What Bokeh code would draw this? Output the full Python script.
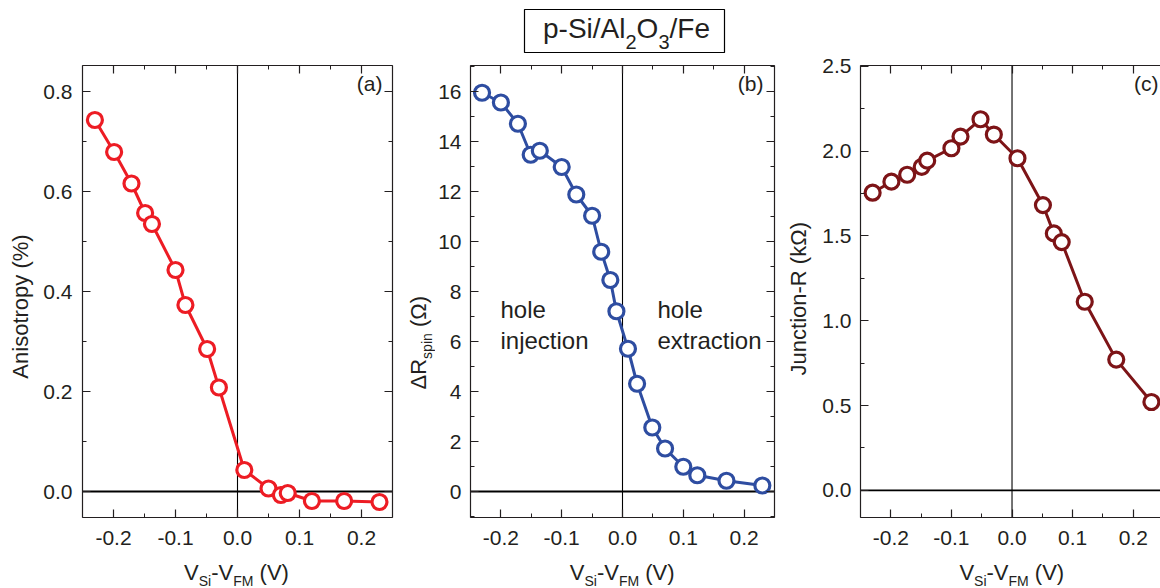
import math
from bokeh.plotting import figure
from bokeh.models import (Label, Span, LinearAxis, SingleIntervalTicker,
                          PrintfTickFormatter, CustomJSTickFormatter, Range1d)
from bokeh.layouts import row, column
from bokeh.embed import file_html
from bokeh.resources import INLINE

FONT = "Liberation Sans"
TXT = "#231f20"
AX = "#231f20"
K = 0.35  # baseline correction (fraction of font size)

# ---------------- data ----------------
v_a = [-0.230, -0.199, -0.171, -0.149, -0.138, -0.100, -0.084, -0.049,
       -0.030, 0.011, 0.050, 0.070, 0.081, 0.120, 0.172, 0.229]
anisotropy = [0.743, 0.679, 0.616, 0.557, 0.535, 0.443, 0.373, 0.285,
              0.208, 0.043, 0.006, -0.007, -0.003, -0.019, -0.019, -0.021]

v_b = [-0.231, -0.200, -0.172, -0.151, -0.136, -0.100, -0.076, -0.050,
       -0.035, -0.020, -0.010, 0.009, 0.024, 0.049, 0.070, 0.100, 0.123,
       0.171, 0.230]
dr_spin = [15.95, 15.56, 14.71, 13.47, 13.63, 12.98, 11.88, 11.03, 9.59,
           8.46, 7.21, 5.71, 4.31, 2.56, 1.72, 0.99, 0.65, 0.43, 0.24]

v_c = [-0.230, -0.199, -0.173, -0.149, -0.140, -0.100, -0.085, -0.052,
       -0.030, 0.009, 0.051, 0.069, 0.082, 0.120, 0.172, 0.230]
junction_r = [1.755, 1.820, 1.861, 1.907, 1.944, 2.017, 2.086, 2.188,
              2.098, 1.958, 1.682, 1.515, 1.464, 1.112, 0.771, 0.521]

COL_A = "#ED1C24"
COL_B = "#2E4DA1"
COL_C = "#7D1417"

# Arial/Liberation Sans advance widths (per 1000 em) for placing rich text pieces
W = {" ": 278, "(": 333, ")": 333, "-": 333, "%": 889, ".": 278, "/": 278,
     "A": 667, "F": 611, "M": 833, "R": 722, "S": 667, "V": 667, "O": 778,
     "J": 500, "a": 556, "c": 500, "e": 556, "i": 222, "k": 500, "l": 222,
     "n": 556, "o": 556, "p": 556, "r": 333, "s": 500, "t": 278, "u": 556,
     "x": 500, "y": 500, "j": 222, "h": 556, "\u0394": 668, "\u03a9": 768}


def tw(s, size):
    return sum(W.get(ch, 556) for ch in s) * size / 1000.0


def rich(p, segs, x, y, angle=0.0):
    """segs: (text, size, shift); shift > 0 lowers the piece (subscript)."""
    total = sum(tw(t, s) for t, s, d in segs)
    pos = -total / 2.0
    for t, s, d in segs:
        lead = len(t) - len(t.lstrip(" "))
        pos_t = pos + tw(" " * lead, s)
        common = dict(text=t.lstrip(" "), text_font=FONT,
                      text_font_size=f"{s}px", text_color=TXT,
                      text_align="left", text_baseline="alphabetic",
                      x_units="screen", y_units="screen")
        if angle == 0:
            lab = Label(x=x + pos_t, y=y - d + K * s, **common)
        else:
            lab = Label(x=x + d - K * s, y=y + pos_t, angle=angle, **common)
        p.add_layout(lab)
        pos += tw(t, s)


def strip(w, h):
    f = figure(width=w, height=h, x_range=Range1d(0, 1), y_range=Range1d(0, 1),
               x_axis_type=None, y_axis_type=None, min_border=0,
               min_border_left=0, min_border_right=0, min_border_top=0,
               min_border_bottom=0, output_backend="svg",
               toolbar_location=None)
    f.outline_line_color = None
    f.background_fill_color = "white"
    f.border_fill_color = "white"
    return f


def style_axis(ax, labels=True, standoff=10):
    ax.axis_line_color = AX
    ax.axis_line_width = 1.2
    ax.major_tick_line_color = AX
    ax.minor_tick_line_color = AX
    ax.major_tick_line_width = 1.2
    ax.minor_tick_line_width = 1.0
    ax.major_tick_in = 8
    ax.major_tick_out = 0
    ax.minor_tick_in = 4
    ax.minor_tick_out = 0
    if labels:
        ax.major_label_text_font = FONT
        ax.major_label_text_font_size = "21px"
        ax.major_label_text_color = TXT
        ax.major_label_standoff = standoff
    else:
        ax.formatter = CustomJSTickFormatter(code="return ''")
        ax.major_label_text_font_size = "1px"
        ax.major_label_standoff = 0


PANEL_H = 504


def panel(xs, ys, color, yr, yint, yfmt, width, mbl, mbr, xend, letter,
          right_axis=True, letter_dx=10, ystand=10):
    p = figure(width=width, height=PANEL_H, x_range=Range1d(-0.25, xend),
               y_range=Range1d(*yr), x_axis_type=None, y_axis_type=None,
               min_border_left=mbl, min_border_right=mbr, min_border_top=12,
               min_border_bottom=40, output_backend="svg",
               toolbar_location=None)
    p.outline_line_color = None
    p.background_fill_color = "white"
    p.border_fill_color = "white"

    xb = LinearAxis(ticker=SingleIntervalTicker(interval=0.1, num_minor_ticks=2),
                    formatter=PrintfTickFormatter(format="%.1f"))
    style_axis(xb, True, 13)
    p.add_layout(xb, "below")
    xa = LinearAxis(ticker=SingleIntervalTicker(interval=0.1, num_minor_ticks=2))
    style_axis(xa, False)
    p.add_layout(xa, "above")

    yl = LinearAxis(ticker=SingleIntervalTicker(interval=yint, num_minor_ticks=2),
                    formatter=PrintfTickFormatter(format=yfmt))
    style_axis(yl, True, ystand)
    p.add_layout(yl, "left")
    if right_axis:
        yrax = LinearAxis(ticker=SingleIntervalTicker(interval=yint, num_minor_ticks=2))
        style_axis(yrax, False)
        p.add_layout(yrax, "right")

    p.add_layout(Span(location=0, dimension="width", line_color="black",
                      line_width=1.8, level="underlay"))
    p.add_layout(Span(location=0, dimension="height", line_color="black",
                      line_width=1.1, level="underlay"))

    p.line(xs, ys, line_color=color, line_width=3)
    p.scatter(xs, ys, marker="circle", size=15, line_color=color,
              line_width=3.2, fill_color="white")

    fw = width - mbl - mbr
    p.add_layout(Label(x=fw - letter_dx, y=452 - 6, x_units="screen",
                       y_units="screen", text=letter, text_font=FONT,
                       text_font_size="21px", text_color=TXT,
                       text_align="right", text_baseline="top"))
    return p


XSEGS = [("V", 22, 0), ("Si", 14, 5), ("-V", 22, 0), ("FM", 14, 5),
         (" (V)", 22, 0)]

# panel (a)
ylab_a = strip(38, PANEL_H)
rich(ylab_a, [("Anisotropy (%)", 22, 0)], 28, 251, angle=math.pi / 2)
pa = panel(v_a, anisotropy, COL_A, (-0.052, 0.852), 0.2, "%.1f",
           367, 44, 13, 0.25, "(a)")

# panel (b)
ylab_b = strip(30, PANEL_H)
rich(ylab_b, [("\u0394R", 22, 0), ("spin", 14, 5), (" (\u03a9)", 22, 0)],
     21, 215, angle=math.pi / 2)
pb = panel(v_b, dr_spin, COL_B, (-1.04, 17.04), 2, "%d",
           351, 34, 12, 0.25, "(b)", letter_dx=12, ystand=9)
for txt, xx, yy in [("hole", 30, 199.7), ("injection", 30, 168.7),
                    ("hole", 187, 199.7), ("extraction", 187, 168.7)]:
    pb.add_layout(Label(x=xx, y=yy + K * 24, x_units="screen",
                        y_units="screen", text=txt, text_font=FONT,
                        text_font_size="24px", text_color=TXT,
                        text_align="left", text_baseline="alphabetic"))

# panel (c)
ylab_c = strip(32, PANEL_H)
rich(ylab_c, [("Junction-R (k\u03a9)", 22, 0)], 20, 259, angle=math.pi / 2)
pc = panel(v_c, junction_r, COL_C, (-0.16, 2.505), 0.5, "%.1f",
           342, 42, 0, 0.245, "(c)", right_axis=False, letter_dx=2, ystand=9)

# x axis labels strip (full width)
xlab = strip(1160, 31)
for xc in (236, 621.7, 1011.3):
    rich(xlab, XSEGS, xc, 8)

# ---------------- title box ----------------
t = figure(width=1160, height=53, x_range=Range1d(0, 1), y_range=Range1d(0, 1),
           x_axis_type=None, y_axis_type=None, min_border_left=524,
           min_border_right=436, min_border_top=9, min_border_bottom=0,
           output_backend="svg", toolbar_location=None)
t.outline_line_color = "black"
t.outline_line_width = 1.2
t.background_fill_color = "white"
t.border_fill_color = "white"
rich(t, [("p-Si/Al", 28, 0), ("2", 20, 10), ("O", 28, 0), ("3", 20, 10),
         ("/Fe", 28, 0)], 102, 15)

layout = column(row(t),
                row(ylab_a, column(pa), ylab_b, column(pb), ylab_c, column(pc)),
                row(xlab))
open("out.html", "w").write(file_html(layout, INLINE))
